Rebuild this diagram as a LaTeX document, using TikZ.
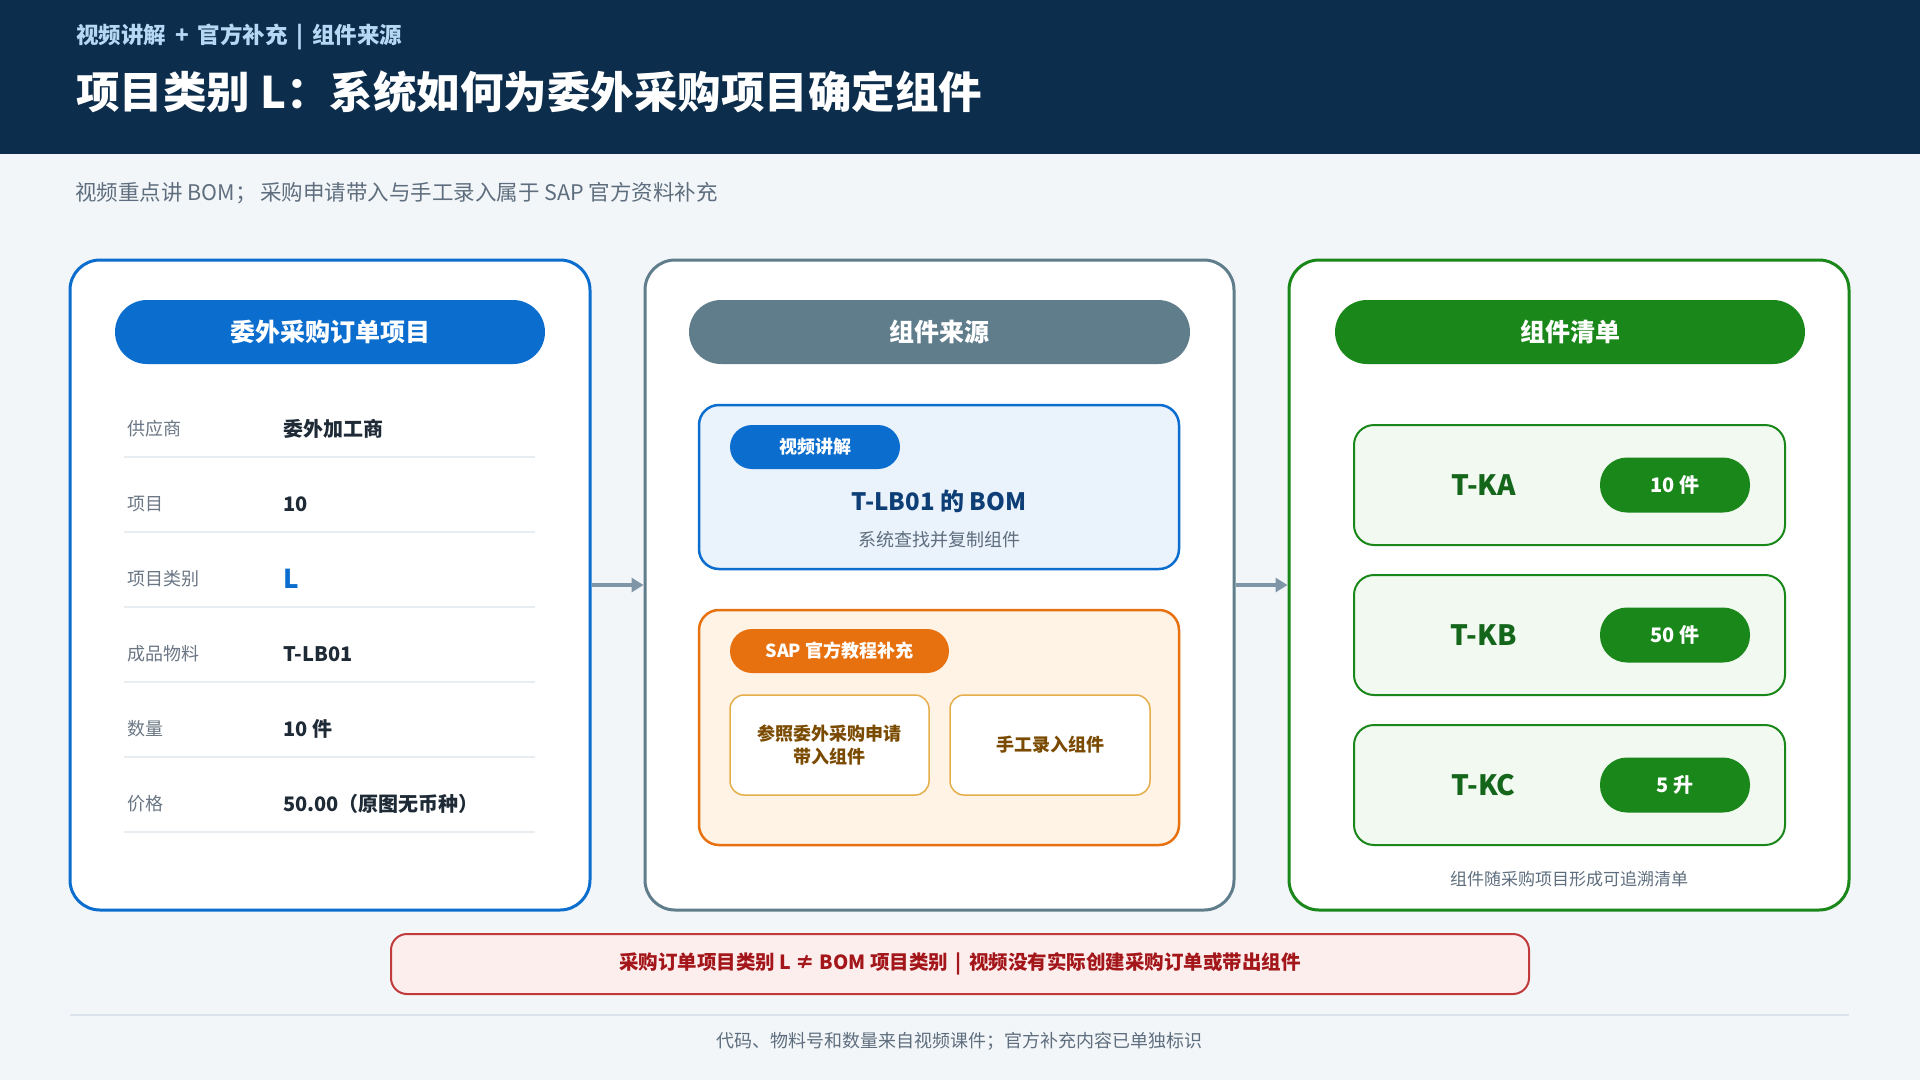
\documentclass[tikz,border=0pt]{standalone}
\usepackage{fontspec}
\setmainfont{Noto Sans CJK SC}
\usetikzlibrary{arrows.meta,chains,positioning}
\definecolor{navy}{HTML}{0C2D4B}
\definecolor{pagebg}{HTML}{F3F6F9}
\definecolor{kickerc}{HTML}{B5D8F5}
\definecolor{notegray}{HTML}{5E6E7E}
\definecolor{sapblue}{HTML}{0B6ECE}
\definecolor{slate}{HTML}{607D8B}
\definecolor{okgreen}{HTML}{1A871A}
\definecolor{darkgreen}{HTML}{14661A}
\definecolor{sorange}{HTML}{E8710F}
\definecolor{gold}{HTML}{E5AE4A}
\definecolor{subbrown}{HTML}{7A4A00}
\definecolor{bluefill}{HTML}{EAF2FC}
\definecolor{orangefill}{HTML}{FFF3E6}
\definecolor{greenfill}{HTML}{F1F9F1}
\definecolor{warnred}{HTML}{C0393B}
\definecolor{warnfill}{HTML}{FDEEEE}
\definecolor{warntext}{HTML}{A3161A}
\definecolor{rulegray}{HTML}{E8EDF2}
\definecolor{footrule}{HTML}{DCE3EA}
\definecolor{labgray}{HTML}{6B7785}
\definecolor{valdark}{HTML}{1E2A36}
\definecolor{arrowgray}{HTML}{7F95A8}
\definecolor{bomblue}{HTML}{0D3E75}
\tikzstyle{panel}=[draw,line width=3pt,fill=white,rounded corners=30pt,minimum height=650pt,inner sep=0pt]
\tikzstyle{pill}=[text=white,font=\fontsize{25}{30}\selectfont\bfseries,minimum height=64pt,rounded corners=32pt,inner sep=0pt]
\tikzstyle{tag}=[text=white,font=\fontsize{18}{22}\selectfont\bfseries,minimum height=44pt,rounded corners=22pt,inner sep=0pt]
\tikzstyle{rowlab}=[anchor=west,inner sep=0pt,text=labgray,font=\fontsize{18}{22}\selectfont]
\tikzstyle{rowval}=[anchor=west,inner sep=0pt,text=valdark,font=\fontsize{20}{24}\selectfont\bfseries]
\tikzstyle{srcbox}=[draw,line width=2.5pt,rounded corners=20pt,minimum width=480pt,inner sep=0pt]
\tikzstyle{optbox}=[draw=gold,line width=1.5pt,fill=white,rounded corners=14pt,minimum height=100pt,text=subbrown,font=\fontsize{18}{23}\selectfont\bfseries,align=center,inner sep=0pt]
\tikzstyle{compbox}=[draw=okgreen,line width=2pt,fill=greenfill,rounded corners=20pt,minimum width=431pt,minimum height=120pt]
\tikzstyle{complab}=[text=darkgreen,font=\fontsize{28}{32}\selectfont\bfseries]
\tikzstyle{qty}=[fill=okgreen,text=white,minimum width=150pt,minimum height=55pt,rounded corners=27pt,font=\fontsize{20}{24}\selectfont\bfseries]
\tikzstyle{flow}=[arrowgray,line width=4pt,-{Triangle[length=12pt,width=14pt]}]
\tikzstyle{smallnote}=[text=notegray,font=\fontsize{17}{20}\selectfont]

\begin{document}
\begin{tikzpicture}[x=1pt,y=-1pt]
\fill[pagebg] (0,0) rectangle (1920,1080);
\fill[navy] (0,0) rectangle (1920,154);
\node[anchor=west,inner sep=0pt,text=kickerc,font=\fontsize{22.5}{26}\selectfont\bfseries] (kicker) at (76,37) {视频讲解 \,+\, 官方补充 \,|\, 组件来源};
\node[anchor=west,inner sep=0pt,text=white,font=\fontsize{43.5}{50}\selectfont\bfseries] (title) at (76,92) {项目类别 L：系统如何为委外采购项目确定组件};
\node[anchor=west,inner sep=0pt,text=notegray,font=\fontsize{21.5}{25}\selectfont] (note) at (75,193) {视频重点讲 BOM；\,采购申请带入与手工录入属于 SAP 官方资料补充};

% three columns
\node[panel,draw=sapblue,minimum width=520pt] (po) at (330,585) {};
\node[panel,draw=slate,minimum width=589pt] (src) at (939.5,585) {};
\node[panel,draw=okgreen,minimum width=560pt] (list) at (1569,585) {};
\node[pill,fill=sapblue,minimum width=430pt] (poHead) at (330,332) {委外采购订单项目};
\node[pill,fill=slate,minimum width=501pt] (srcHead) at (939.5,332) {组件来源};
\node[pill,fill=okgreen,minimum width=470pt] (listHead) at (1570,332) {组件清单};

\draw[flow] (po.east) -- (src.west);
\draw[flow] (src.east) -- (list.west);

% order item fields
\foreach \lab/\val [count=\i, evaluate=\i as \y using 354+\i*75] in
  {供应商/委外加工商, 项目/10, 项目类别/{\textcolor{sapblue}{\fontsize{26}{26}\selectfont L}}, 成品物料/T-LB01, 数量/10 件, 价格/50.00（原图无币种）}
{
  \node[rowlab] (lab\i) at (127,\y) {\lab};
  \node[rowval] (val\i) at (283,\y) {\val};
  \draw[rulegray,line width=2pt] (124,\y+28) -- (535,\y+28);
}

% component sources
\node[srcbox,draw=sapblue,fill=bluefill,minimum height=164pt] (bom) at (939,487) {};
\node[tag,fill=sapblue,minimum width=170pt] (videoTag) at (815,447) {视频讲解};
\node[text=bomblue,font=\fontsize{24}{28}\selectfont\bfseries] (bomTitle) at (939,501) {T-LB01 的 BOM};
\node[text=notegray,font=\fontsize{18}{22}\selectfont] (bomNote) at (939,540) {系统查找并复制组件};

\node[srcbox,draw=sorange,fill=orangefill,minimum height=235pt] (sap) at (939,727.5) {};
\node[tag,fill=sorange,minimum width=219pt] (sapTag) at (839.5,651) {SAP 官方教程补充};
\node[optbox,minimum width=199pt] (optReq) at (829.5,745) {参照委外采购申请\\带入组件};
\node[optbox,minimum width=200pt] (optMan) at (1050,745) {手工录入组件};

% component list
\begin{scope}[start chain=comp going below,node distance=28pt]
\node[on chain=comp,compbox] (ka) at (1569.5,485) {};
\node[on chain=comp,compbox] (kb) {};
\node[on chain=comp,compbox] (kc) {};
\end{scope}
\node[complab] (kaName) at ([xshift=-86pt]ka.center) {T-KA};
\node[complab] (kbName) at ([xshift=-86pt]kb.center) {T-KB};
\node[complab] (kcName) at ([xshift=-86pt]kc.center) {T-KC};
\node[qty] (kaQty) at ([xshift=105.5pt]ka.center) {10 件};
\node[qty] (kbQty) at ([xshift=105.5pt]kb.center) {50 件};
\node[qty] (kcQty) at ([xshift=105.5pt]kc.center) {5 升};
\node[smallnote] (listNote) at (1569,879) {组件随采购项目形成可追溯清单};

% warning and footer
\node[draw=warnred,line width=2pt,fill=warnfill,rounded corners=16pt,minimum width=1138pt,minimum height=60pt,text=warntext,font=\fontsize{19.5}{22}\selectfont\bfseries] (warn) at (960,964) {采购订单项目类别 L ≠ BOM 项目类别 \,|\, 视频没有实际创建采购订单或带出组件};
\coordinate (ruleL) at (70,1015);
\coordinate (ruleR) at (1849,1015);
\draw[footrule,line width=2pt] (ruleL) -- (ruleR);
\node[smallnote,font=\fontsize{18}{22}\selectfont] (foot) at (959,1041) {代码、物料号和数量来自视频课件；官方补充内容已单独标识};
\end{tikzpicture}
\end{document}
